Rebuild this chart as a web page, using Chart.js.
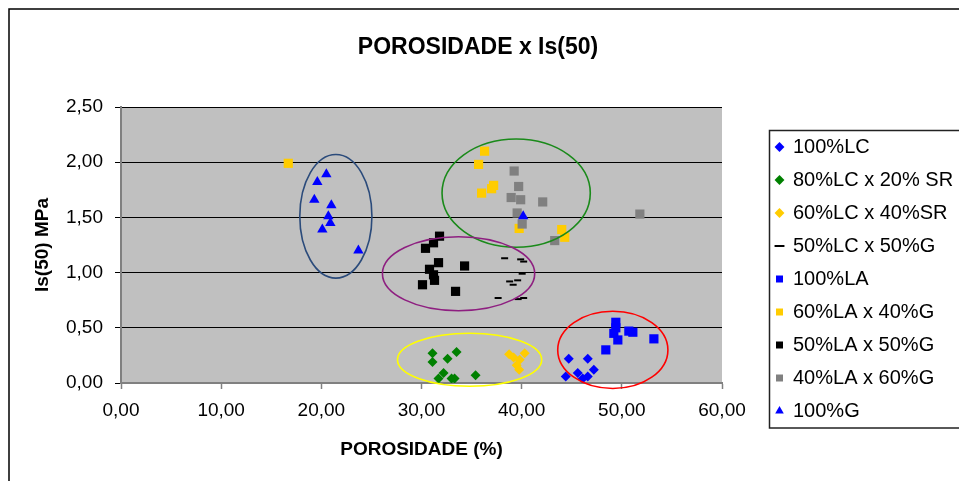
<!DOCTYPE html>
<html>
<head>
<meta charset="utf-8">
<title>POROSIDADE x Is(50)</title>
<script src="https://cdn.jsdelivr.net/npm/chart.js@4/dist/chart.umd.min.js"></script>
<style>
  html, body { margin: 0; padding: 0; background: #fff; }
  canvas { display: block; }
</style>
</head>
<body>
<canvas id="chart" width="959" height="481"></canvas>
<script>
// Ensaios: porosidade (%) x índice de carga pontual Is(50) (MPa)
const seriesNames = [
  '100%LC', '80%LC x 20% SR', '60%LC x 40%SR', '50%LC x 50%G',
  '100%LA', '60%LA x 40%G', '50%LA x 50%G', '40%LA x 60%G', '100%G'
];

const lc100 = [[44.7, 0.22], [46.6, 0.22], [47.2, 0.12], [44.4, 0.06], [45.6, 0.09], [46.1, 0.04], [46.6, 0.06]];
const lc80sr20 = [[31.1, 0.27], [31.1, 0.19], [32.6, 0.22], [33.5, 0.28], [32.2, 0.09], [31.7, 0.04], [33.0, 0.04], [33.3, 0.04], [35.4, 0.07]];
const lc60sr40 = [[38.75, 0.26], [40.3, 0.27], [39.2, 0.23], [39.8, 0.21], [39.5, 0.16], [39.75, 0.12]];
const lc50g50 = [[38.3, 1.13], [39.9, 1.12], [40.2, 1.10], [40.05, 0.99], [39.6, 0.93], [38.8, 0.92], [39.15, 0.89], [37.65, 0.77], [39.65, 0.76], [40.2, 0.77]];
const la100 = [[49.4, 0.55], [49.4, 0.50], [49.2, 0.45], [49.6, 0.39], [50.7, 0.47], [51.1, 0.46], [53.2, 0.40], [48.4, 0.30]];
const la60g40 = [[16.7, 1.99], [36.3, 2.10], [35.7, 1.98], [37.2, 1.79], [37.0, 1.76], [36.0, 1.72], [39.75, 1.40], [44.0, 1.39], [44.3, 1.32]];
const la50g50 = [[31.8, 1.33], [31.2, 1.27], [30.4, 1.22], [31.7, 1.09], [30.8, 1.03], [31.2, 0.98], [31.3, 0.93], [30.1, 0.89], [34.3, 1.06], [33.4, 0.83]];
const la40g60 = [[39.25, 1.92], [39.7, 1.78], [38.95, 1.68], [39.9, 1.66], [42.1, 1.64], [39.55, 1.54], [40.05, 1.44], [43.3, 1.29], [51.8, 1.53]];
const g100 = [[20.5, 1.89], [19.6, 1.82], [19.3, 1.66], [21.0, 1.61], [20.7, 1.51], [20.9, 1.45], [20.1, 1.39], [23.7, 1.20], [40.15, 1.51]];

const xTickLabels = ['0,00', '10,00', '20,00', '30,00', '40,00', '50,00', '60,00'];
const yTickLabels = ['0,00', '0,50', '1,00', '1,50', '2,00', '2,50'];

// Grupos destacados por elipses (centro e semi-eixos em unidades dos eixos)
const groupRings = [
  { cx: 21.45, cy: 1.51, rx: 3.6, ry: 0.56, color: '#2B4B7B' },
  { cx: 39.45, cy: 1.72, rx: 7.4, ry: 0.49, color: '#1A8A1A' },
  { cx: 33.7, cy: 0.99, rx: 7.6, ry: 0.335, color: '#8E1F80' },
  { cx: 34.8, cy: 0.21, rx: 7.2, ry: 0.24, color: '#FFFF00' },
  { cx: 49.1, cy: 0.30, rx: 5.5, ry: 0.35, color: '#FF0000' }
];

const seriesData = [lc100, lc80sr20, lc60sr40, lc50g50, la100, la60g40, la50g50, la40g60, g100];
const seriesStyle = [
  { color: '#0000FF', shape: 'rectRot', r: 5 },
  { color: '#008000', shape: 'rectRot', r: 5 },
  { color: '#FFCC00', shape: 'rectRot', r: 5 },
  { color: '#000000', shape: 'line', r: 3.5, bw: 2 },
  { color: '#0000FF', shape: 'rect', r: 6.5 },
  { color: '#FFCC00', shape: 'rect', r: 6.5 },
  { color: '#000000', shape: 'rect', r: 6.5 },
  { color: '#808080', shape: 'rect', r: 6.5 },
  { color: '#0000FF', shape: 'triangle', r: 6 }
];

const FONT = "'Liberation Sans', Arial, Helvetica, sans-serif";

const datasets = seriesNames.map((name, i) => {
  const st = seriesStyle[i];
  return {
    label: name,
    data: seriesData[i].map(([x, y]) => ({ x, y })),
    pointStyle: st.shape,
    pointRadius: st.r,
    pointHoverRadius: st.r,
    pointBackgroundColor: st.color,
    pointBorderColor: st.color,
    pointBorderWidth: st.bw || 0,
    backgroundColor: st.color,
    borderColor: st.color,
    borderWidth: st.bw || 0,
    showLine: false,
    order: seriesNames.length - i
  };
});

const plotBackground = {
  id: 'plotBackground',
  beforeDraw(chart) {
    const { ctx, chartArea: a } = chart;
    ctx.save();
    ctx.fillStyle = '#FFFFFF';
    ctx.fillRect(0, 0, chart.width, chart.height);
    ctx.fillStyle = '#C0C0C0';
    ctx.fillRect(a.left, a.top, a.right - a.left, a.bottom - a.top);
    ctx.restore();
  }
};

// Título centrado na largura toda e legenda dentro da sua caixa à direita
const boxPlacement = {
  id: 'boxPlacement',
  afterLayout(chart) {
    const tb = chart.titleBlock;
    if (tb) { tb.left = 0; tb.right = 956; tb.width = 956; }
    const lg = chart.legend;
    if (lg) {
      lg.left = 763; lg.right = 1200; lg.width = 437;
      lg.top = 124; lg.bottom = 124 + lg.height;
    }
  }
};

const frames = {
  id: 'frames',
  afterDraw(chart) {
    const { ctx } = chart;
    ctx.save();
    ctx.strokeStyle = '#000000';
    ctx.lineWidth = 1.5;
    ctx.strokeRect(9, 9, 1000, 1000);
    ctx.strokeStyle = '#222222';
    ctx.strokeRect(769.5, 130.5, 300, 297.5);
    ctx.restore();
  }
};

const rings = {
  id: 'rings',
  afterDatasetsDraw(chart) {
    const { ctx, scales: { x, y } } = chart;
    ctx.save();
    ctx.lineWidth = 1.6;
    groupRings.forEach(g => {
      const px = x.getPixelForValue(g.cx), py = y.getPixelForValue(g.cy);
      const rx = Math.abs(x.getPixelForValue(g.cx + g.rx) - px);
      const ry = Math.abs(y.getPixelForValue(g.cy + g.ry) - py);
      ctx.beginPath();
      ctx.ellipse(px, py, rx, ry, 0, 0, Math.PI * 2);
      ctx.strokeStyle = g.color;
      ctx.stroke();
    });
    ctx.restore();
  }
};

new Chart(document.getElementById('chart'), {
  type: 'scatter',
  data: { datasets },
  plugins: [plotBackground, boxPlacement, rings, frames],
  options: {
    responsive: false,
    devicePixelRatio: 1,
    animation: false,
    events: [],
    layout: { padding: { top: 10, left: 10, right: 87, bottom: 5 } },
    plugins: {
      title: {
        display: true,
        text: 'POROSIDADE x Is(50)',
        color: '#000',
        font: { family: FONT, size: 23, weight: 'bold' },
        padding: { top: 24, bottom: 45.4 }
      },
      legend: {
        display: true,
        position: 'right',
        align: 'start',
        maxWidth: 150,
        labels: {
          usePointStyle: true,
          boxWidth: 7,
          boxHeight: 7,
          padding: 13,
          color: '#000',
          font: { family: FONT, size: 20 },
          sort: (a, b) => a.datasetIndex - b.datasetIndex
        }
      },
      tooltip: { enabled: false }
    },
    scales: {
      x: {
        type: 'linear',
        min: 0, max: 60,
        afterFit: s => { s.height = 93; },
        ticks: {
          stepSize: 10,
          padding: 10,
          color: '#000',
          font: { family: FONT, size: 19 },
          callback: (v, i) => xTickLabels[i]
        },
        grid: { drawOnChartArea: false, drawTicks: true, tickLength: 6, tickColor: '#808080', tickWidth: 1.5 },
        border: { display: true, color: '#808080', width: 2 },
        title: {
          display: true,
          text: 'POROSIDADE (%)',
          color: '#000',
          font: { family: FONT, size: 19, weight: 'bold' },
          padding: { top: 0, bottom: 15 }
        }
      },
      y: {
        type: 'linear',
        min: 0, max: 2.5,
        afterFit: s => { s.width = 111; },
        ticks: {
          stepSize: 0.5,
          padding: 12,
          color: '#000',
          font: { family: FONT, size: 19 },
          callback: (v, i) => yTickLabels[i]
        },
        grid: { color: '#000000', lineWidth: 1, drawTicks: true, tickLength: 6, tickColor: '#000000' },
        border: { display: true, color: '#808080', width: 2 },
        title: {
          display: true,
          text: 'Is(50) MPa',
          color: '#000',
          font: { family: FONT, size: 19, weight: 'bold' },
          padding: { top: 21, bottom: 0 }
        }
      }
    }
  }
});
</script>
</body>
</html>
